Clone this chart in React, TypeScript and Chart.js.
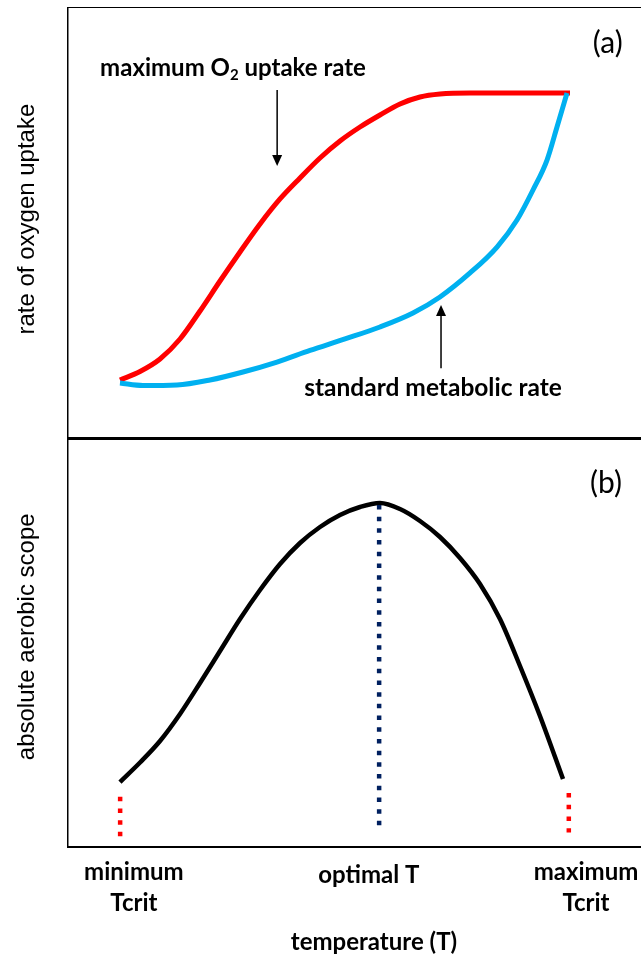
import React, { useEffect, useRef } from "react";
import { Chart, registerables } from "chart.js";

Chart.register(...registerables);

// ---------- data (arbitrary schematic units: temperature 0..100, rate 0..100) ----------
// Panel (a)
const maxUptakeT = [9.07, 12.57, 16.06, 19.55, 23.04, 26.53, 30.02, 33.51, 37.0, 40.49, 43.98, 47.47, 50.96, 54.45, 57.94, 61.43, 64.92, 70.16, 87.61];
const maxUptakeRate = [13.66, 15.63, 18.52, 23.15, 29.63, 36.57, 43.29, 49.77, 55.56, 60.42, 65.05, 68.98, 72.22, 75.0, 77.55, 79.17, 79.86, 80.09, 80.09];
const smrT = [9.07, 13.09, 19.02, 24.78, 30.54, 36.47, 42.23, 48.34, 54.45, 60.21, 64.92, 70.16, 74.87, 78.36, 81.15, 83.6, 85.34, 87.09];
const smrRate = [12.96, 12.38, 12.5, 13.66, 15.51, 17.82, 20.49, 23.15, 25.93, 29.17, 32.87, 38.43, 44.44, 50.69, 57.64, 64.58, 72.22, 80.09];

// Panel (b)
const scopeT = [9.07, 12.57, 16.06, 19.55, 23.04, 26.53, 30.02, 33.51, 37.0, 40.49, 43.98, 47.47, 50.96, 54.45, 57.94, 61.43, 64.92, 68.41, 71.9, 75.39, 78.88, 82.37, 86.39];
const scopeValue = [15.72, 20.52, 25.8, 32.43, 40.05, 47.91, 55.77, 62.9, 69.29, 74.45, 78.38, 81.33, 83.29, 84.28, 82.8, 79.85, 75.92, 70.76, 64.37, 55.77, 44.23, 31.94, 16.46];

// Critical / optimal temperature markers: [x, yTop, yBottom]
const minTcritMarker = [9.1, 12.1, 2.4];
const optTMarker = [54.3, 83.8, 5.1];
const maxTcritMarker = [87.4, 13.0, 3.3];

// Annotation arrows: [x, yFrom, yTo(tip)]
const maxUptakeArrow = [36.5, 80.8, 63.2];
const smrArrow = [65.1, 16.4, 31.0];

// Annotation label anchors: [x, y]
const panelALabelPos = [94.2, 91.7];
const panelBLabelPos = [93.9, 89.2];
const maxUptakeLabelPos = [28.8, 85.9];
const smrLabelPos = [63.7, 11.8];

// x-axis category labels
const tempTickValues = [11.5, 52.5, 90.4];
const tempTickLabels = [["minimum", "Tcrit"], ["optimal T"], ["maximum", "Tcrit"]];
const xTitle = "temperature (T)";
const xTitleCenter = 53.4;
const yTitleA = "rate of oxygen uptake";
const yTitleB = "absolute aerobic scope";
const yTitleACenter = 50.9;
const yTitleBCenter = 51.4;

// ---------- styles ----------
const FONT = "Lato, 'Open Sans', sans-serif";
const TITLE_FONT = "'Liberation Sans', Arial, sans-serif";
const RED = "#FF0000";
const BLUE = "#00B0F0";
const NAVY = "#002060";

const pts = (xs: number[], ys: number[]) => xs.map((x, i) => ({ x, y: ys[i] }));
const vline = (m: number[]) => [{ x: m[0], y: m[1] }, { x: m[0], y: m[2] }];

function drawArrow(chart: any, a: number[]) {
  const { ctx, scales } = chart;
  const x = scales.x.getPixelForValue(a[0]);
  const y1 = scales.y.getPixelForValue(a[1]);
  const y2 = scales.y.getPixelForValue(a[2]);
  const dir = y2 > y1 ? 1 : -1;
  const head = 11;
  ctx.save();
  ctx.strokeStyle = "#000";
  ctx.fillStyle = "#000";
  ctx.lineWidth = 1.5;
  ctx.beginPath();
  ctx.moveTo(x, y1);
  ctx.lineTo(x, y2 - dir * head);
  ctx.stroke();
  ctx.beginPath();
  ctx.moveTo(x, y2);
  ctx.lineTo(x - 5, y2 - dir * head);
  ctx.lineTo(x + 5, y2 - dir * head);
  ctx.closePath();
  ctx.fill();
  ctx.restore();
}

function drawYTitle(chart: any, text: string, v: number) {
  const { ctx, scales } = chart;
  const y = scales.y.getPixelForValue(v);
  ctx.save();
  ctx.translate(27, y);
  ctx.rotate(-Math.PI / 2);
  ctx.font = `24px ${TITLE_FONT}`;
  ctx.fillStyle = "#000";
  ctx.textAlign = "center";
  ctx.textBaseline = "middle";
  ctx.fillText(text, 0, 0);
  ctx.restore();
}

const topPlugin = {
  id: "panelA",
  beforeDatasetsDraw(chart: any) {
    const { ctx, chartArea } = chart;
    ctx.save();
    ctx.fillStyle = "#000";
    ctx.fillRect(chartArea.left, chartArea.top, chartArea.right - chartArea.left, 1);
    ctx.fillRect(chartArea.left - 1, chartArea.top, 1.5, chartArea.bottom - chartArea.top);
    ctx.restore();
  },
  afterDatasetsDraw(chart: any) {
    const { ctx, scales } = chart;
    const sx = scales.x, sy = scales.y;
    ctx.save();
    ctx.fillStyle = "#000";
    ctx.textBaseline = "middle";
    ctx.textAlign = "center";
    ctx.font = `30px ${FONT}`;
    ctx.fillText("(a)", sx.getPixelForValue(panelALabelPos[0]), sy.getPixelForValue(panelALabelPos[1]));

    // maximum O2 uptake rate (with subscript)
    const big = `bold 24px ${FONT}`;
    const small = `bold 15px ${FONT}`;
    const p1 = "maximum O", p2 = "2", p3 = " uptake rate";
    ctx.font = big;
    const w1 = ctx.measureText(p1).width;
    const w3 = ctx.measureText(p3).width;
    ctx.font = small;
    const w2 = ctx.measureText(p2).width;
    const total = w1 + w2 + w3;
    const cx = sx.getPixelForValue(maxUptakeLabelPos[0]);
    const cy = sy.getPixelForValue(maxUptakeLabelPos[1]);
    const x0 = cx - total / 2;
    ctx.textAlign = "left";
    ctx.font = big;
    ctx.fillText(p1, x0, cy);
    ctx.font = small;
    ctx.fillText(p2, x0 + w1, cy + 7);
    ctx.font = big;
    ctx.fillText(p3, x0 + w1 + w2, cy);

    ctx.textAlign = "center";
    ctx.font = `bold 24.5px ${FONT}`;
    ctx.fillText("standard metabolic rate", sx.getPixelForValue(smrLabelPos[0]), sy.getPixelForValue(smrLabelPos[1]));
    ctx.restore();

    drawArrow(chart, maxUptakeArrow);
    drawArrow(chart, smrArrow);
    drawYTitle(chart, yTitleA, yTitleACenter);
  },
};

const bottomPlugin = {
  id: "panelB",
  beforeDatasetsDraw(chart: any) {
    const { ctx, chartArea } = chart;
    ctx.save();
    ctx.fillStyle = "#000";
    ctx.fillRect(chartArea.left - 1, 0, chartArea.right - chartArea.left + 1, 3);
    ctx.fillRect(chartArea.left - 1, 0, 1.5, chartArea.bottom + 1);
    ctx.fillRect(chartArea.left - 1, chartArea.bottom, chartArea.right - chartArea.left + 1, 2);
    ctx.restore();
  },
  afterDatasetsDraw(chart: any) {
    const { ctx, scales, chartArea } = chart;
    const sx = scales.x, sy = scales.y;
    ctx.save();
    ctx.fillStyle = "#000";
    ctx.textBaseline = "middle";
    ctx.textAlign = "center";
    ctx.font = `30px ${FONT}`;
    ctx.fillText("(b)", sx.getPixelForValue(panelBLabelPos[0]), sy.getPixelForValue(panelBLabelPos[1]));

    ctx.font = `bold 24px ${FONT}`;
    tempTickValues.forEach((v, i) => {
      const lines = tempTickLabels[i];
      const x = sx.getPixelForValue(v);
      if (lines.length === 1) {
        ctx.fillText(lines[0], x, chartArea.bottom + 29);
      } else {
        lines.forEach((t, j) => ctx.fillText(t, x, chartArea.bottom + 26 + j * 31));
      }
    });
    ctx.fillText(xTitle, sx.getPixelForValue(xTitleCenter), chartArea.bottom + 96);
    ctx.restore();

    drawYTitle(chart, yTitleB, yTitleBCenter);
  },
};

const baseScales = {
  x: { type: "linear", min: 0, max: 100, display: false },
  y: { type: "linear", min: 0, max: 100, display: false },
};

const basePlugins = { legend: { display: false }, tooltip: { enabled: false } };

export default function App() {
  const topRef = useRef<HTMLCanvasElement>(null);
  const botRef = useRef<HTMLCanvasElement>(null);

  useEffect(() => {
    const curve = (xs: number[], ys: number[], color: string, w: number) => ({
      data: pts(xs, ys),
      borderColor: color,
      borderWidth: w,
      pointRadius: 0,
      cubicInterpolationMode: "monotone",
      borderCapStyle: "butt",
      borderJoinStyle: "round",
    });

    const top = new Chart(topRef.current as HTMLCanvasElement, {
      type: "line",
      data: {
        datasets: [curve(smrT, smrRate, BLUE, 5), curve(maxUptakeT, maxUptakeRate, RED, 5)] as any,
      },
      options: {
        animation: false,
        responsive: false,
        events: [],
        layout: { padding: { left: 68, top: 7, right: 0, bottom: 0 } },
        scales: baseScales as any,
        plugins: basePlugins,
      } as any,
      plugins: [topPlugin],
    });

    const dotted = (m: number[], color: string) => ({
      data: vline(m),
      borderColor: color,
      borderWidth: 4.5,
      borderDash: [4.5, 7.2],
      borderCapStyle: "butt",
      pointRadius: 0,
    });

    const bottom = new Chart(botRef.current as HTMLCanvasElement, {
      type: "line",
      data: {
        datasets: [
          dotted(minTcritMarker, RED),
          dotted(maxTcritMarker, RED),
          dotted(optTMarker, NAVY),
          curve(scopeT, scopeValue, "#000", 4.5),
        ] as any,
      },
      options: {
        animation: false,
        responsive: false,
        events: [],
        layout: { padding: { left: 68, top: 2, right: 0, bottom: 117 } },
        scales: baseScales as any,
        plugins: basePlugins,
      } as any,
      plugins: [bottomPlugin],
    });

    return () => {
      top.destroy();
      bottom.destroy();
    };
  }, []);

  return (
    <div style={{ position: "absolute", left: 0, top: 0, width: 641, height: 963, background: "#fff" }}>
      <canvas ref={topRef} width={641} height={439} style={{ position: "absolute", left: 0, top: 0 }} />
      <canvas ref={botRef} width={641} height={526} style={{ position: "absolute", left: 0, top: 437 }} />
    </div>
  );
}
